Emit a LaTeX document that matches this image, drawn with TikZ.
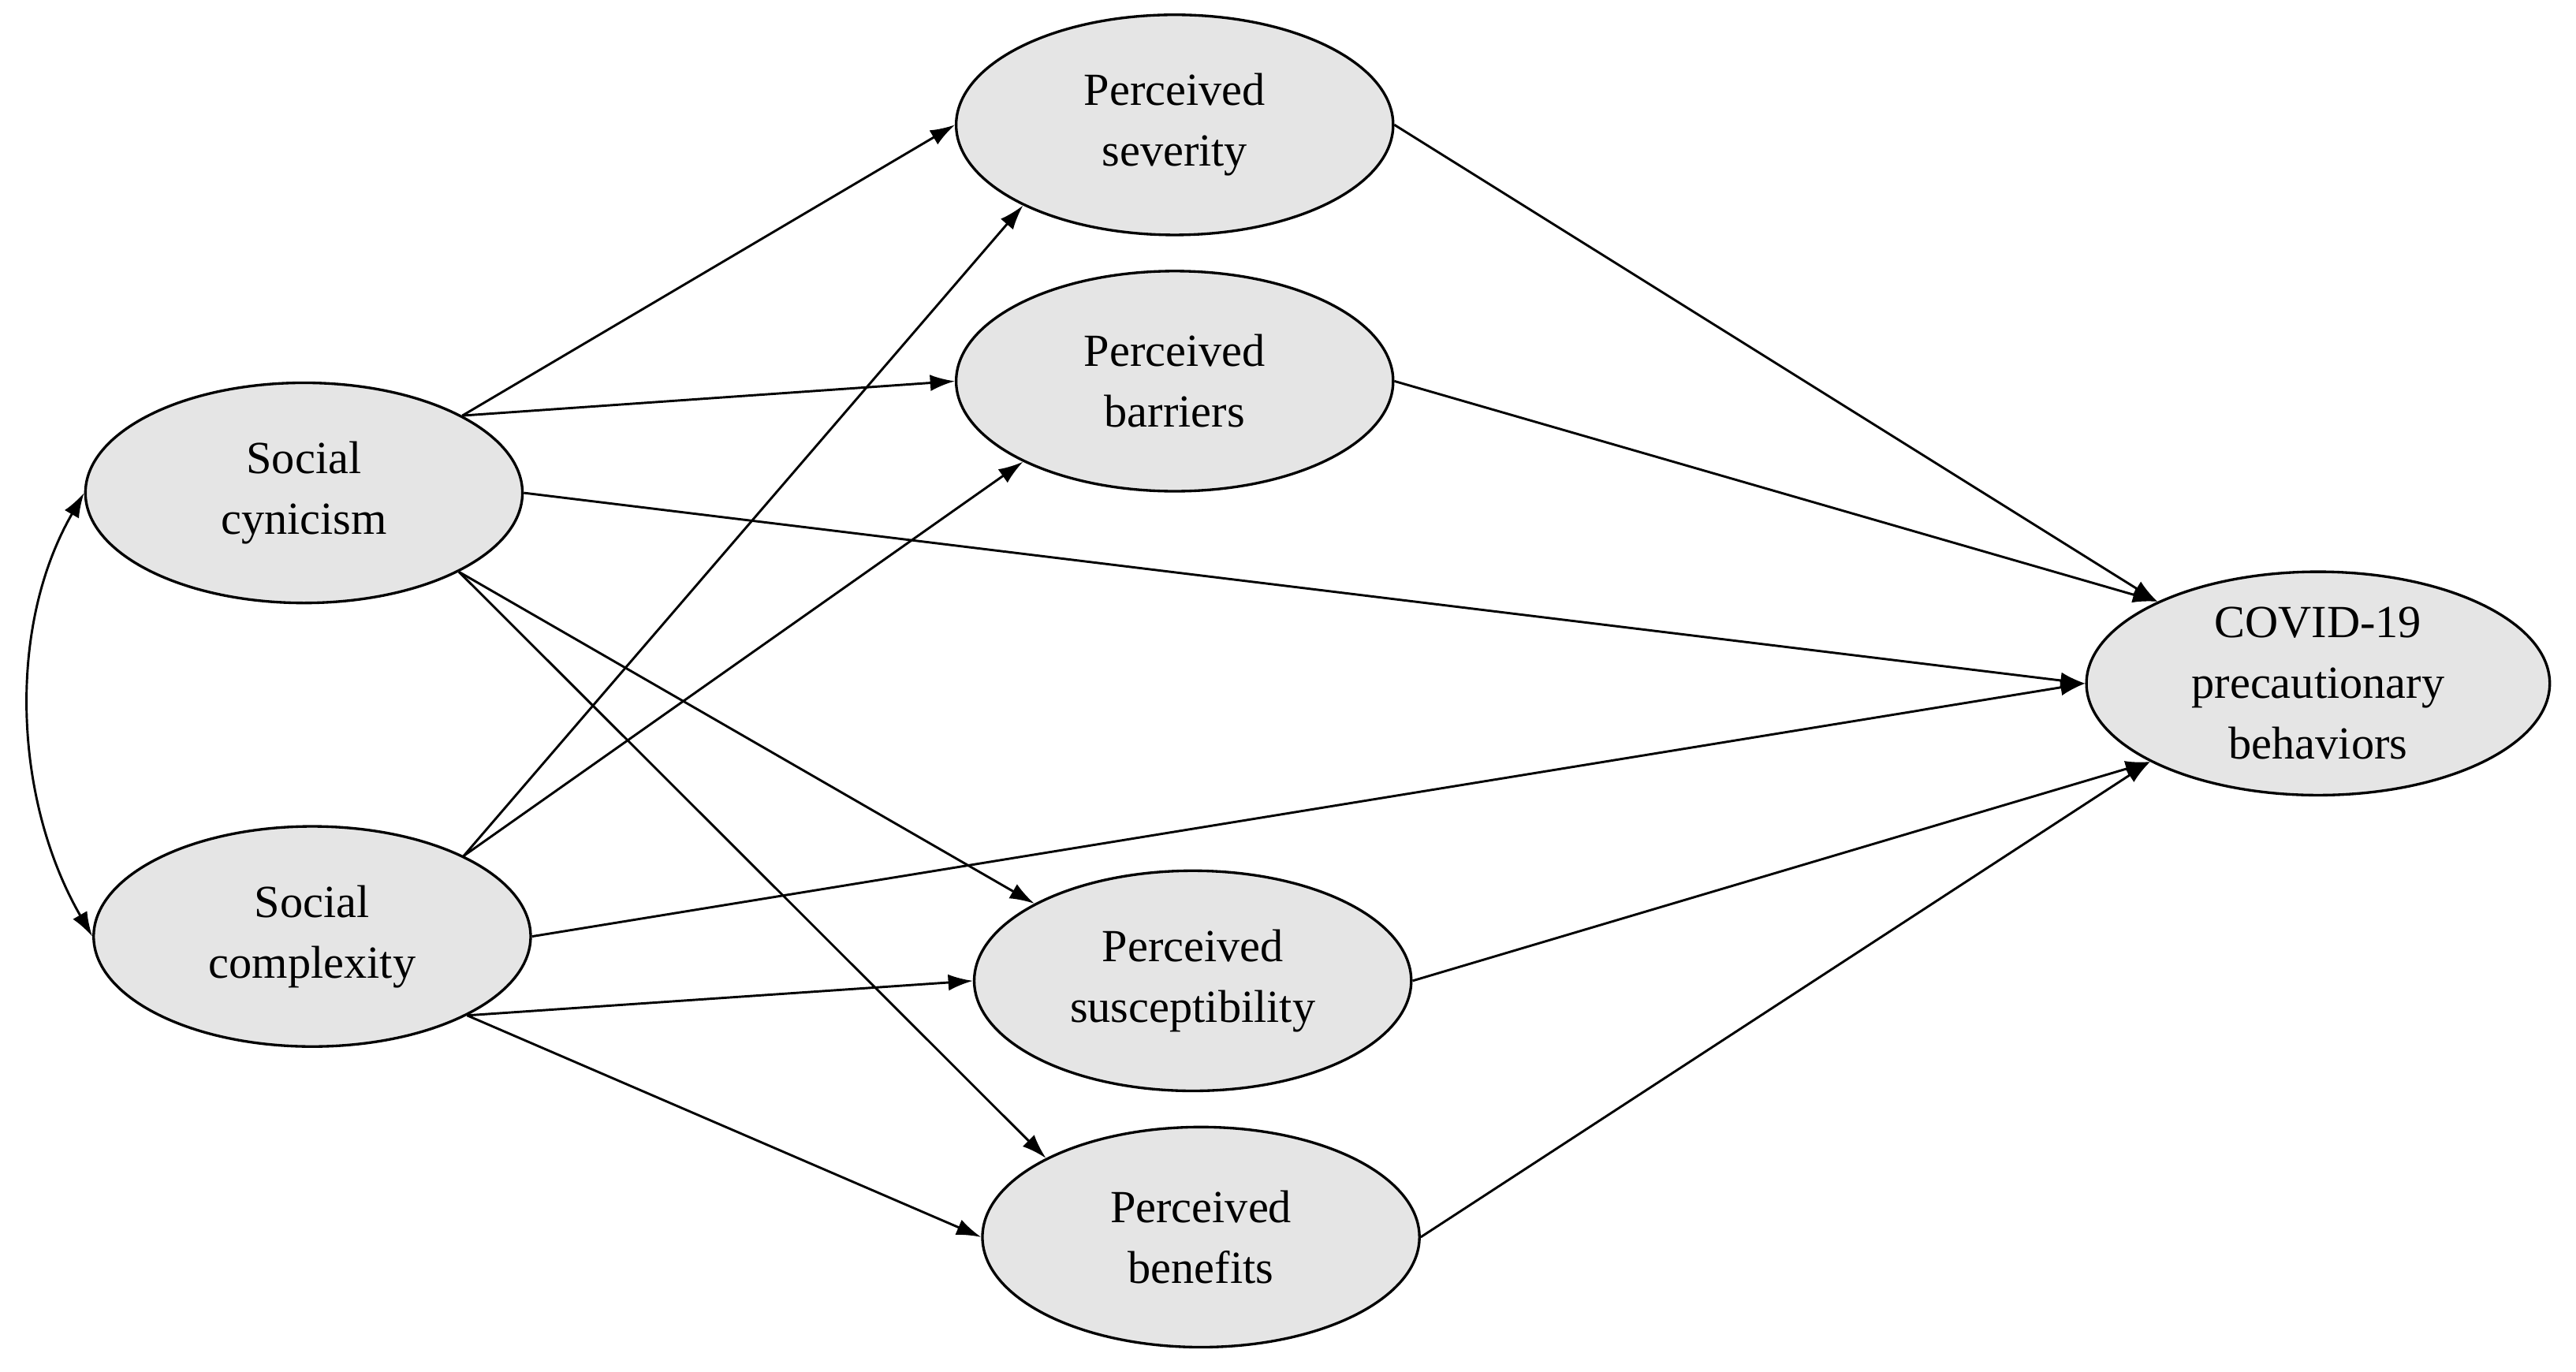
\documentclass[tikz,border=0pt]{standalone}
\usepackage{fontspec}
\setmainfont{Liberation Serif}
\usetikzlibrary{shapes.geometric,arrows.meta}
\begin{document}
\begin{tikzpicture}[x=1pt,y=-1pt,
  el/.style={ellipse,draw,line width=1.6pt,fill=gray!20,minimum width=266pt,minimum height=134pt,align=center,inner sep=0pt,font=\fontsize{28}{37}\selectfont},
  ar/.style={line width=1.4pt,-{Latex[length=15pt,width=10pt]}}]
\useasboundingbox (0,0) rectangle (1568,835);
\node[el] (sev) at (715,76) {Perceived\\severity};
\node[el] (bar) at (715,232) {Perceived\\barriers};
\node[el] (cyn) at (185,300) {Social\\cynicism};
\node[el] (com) at (190,570) {Social\\complexity};
\node[el] (sus) at (726,597) {Perceived\\susceptibility};
\node[el] (ben) at (731,753) {Perceived\\benefits};
\node[el,minimum width=282pt,minimum height=136pt] (cov) at (1411,416) {COVID-19\\precautionary\\behaviors};
\draw[ar] (cyn.26) -- (sev.west);
\draw[ar] (cyn.26) -- (bar.west);
\draw[ar] (cyn.east) -- (cov.west);
\draw[ar] (cyn.-27) -- (sus.154);
\draw[ar] (cyn.-27) -- (ben.153);
\draw[ar] (com.28) -- (sev.208);
\draw[ar] (com.28) -- (bar.208);
\draw[ar] (com.east) -- (cov.west);
\draw[ar] (com.-27) -- (sus.west);
\draw[ar] (com.-27) -- (ben.west);
\draw[ar] (sev.east) -- (cov.153);
\draw[ar] (bar.east) -- (cov.153);
\draw[ar] (sus.east) -- (cov.205);
\draw[ar] (ben.east) -- (cov.205);
\draw[line width=1.4pt,{Latex[length=15pt,width=10pt]}-{Latex[length=15pt,width=10pt]}] (cyn.west) to[out=240,in=120,looseness=0.9] (com.west);
\end{tikzpicture}
\end{document}
